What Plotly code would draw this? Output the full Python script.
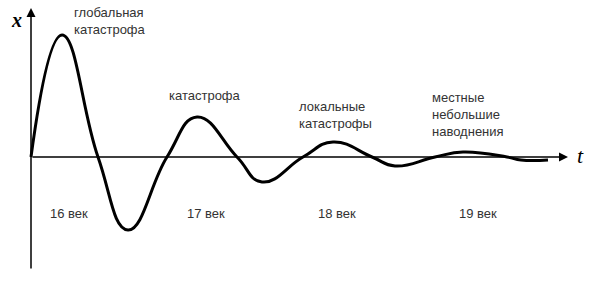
import plotly.graph_objects as go

# Curve (t in arbitrary time units, x deviation): extrema and zero crossings
t_vals = [0.00, 0.31, 0.67, 0.97, 1.36, 1.66, 2.06, 2.31, 2.72, 3.02, 3.41, 3.64, 4.04, 4.32, 4.76, 4.90, 5.17]
x_vals = [0.00, 1.22, 0.00, -0.73, 0.00, 0.40, 0.00, -0.25, 0.00, 0.15, 0.00, -0.09, 0.00, 0.05, 0.00, -0.03, -0.03]

# Annotations
labels = ["глобальная<br>катастрофа", "катастрофа", "локальные<br>катастрофы", "местные<br>небольшие<br>наводнения"]
label_t = [0.41, 1.36, 2.66, 3.99]
label_x = [1.36, 0.62, 0.42, 0.43]
eras = ["16 век", "17 век", "18 век", "19 век"]
era_t = [0.17, 1.54, 2.85, 4.26]
era_x = [-0.56, -0.56, -0.56, -0.56]

axis_t_end = 5.37
axis_x_top = 1.49
axis_x_bottom = -1.13

fig = go.Figure()
fig.add_trace(go.Scatter(x=t_vals, y=x_vals, mode="lines",
                         line=dict(color="black", width=3, shape="spline", smoothing=1.3),
                         hoverinfo="skip"))

# axes as arrows
fig.add_annotation(x=axis_t_end, y=0, ax=0, ay=0, xref="x", yref="y", axref="x", ayref="y",
                   showarrow=True, arrowhead=2, arrowsize=1.2, arrowwidth=1.5, arrowcolor="black", text="")
fig.add_annotation(x=0, y=axis_x_top, ax=0, ay=axis_x_bottom, xref="x", yref="y", axref="x", ayref="y",
                   showarrow=True, arrowhead=2, arrowsize=1.2, arrowwidth=1.5, arrowcolor="black", text="")

for txt, tx, xx in zip(labels, label_t, label_x):
    fig.add_annotation(x=tx, y=xx, text=txt, showarrow=False, xanchor="left", yanchor="middle",
                       align="left", font=dict(family="Liberation Sans", size=13, color="#333"))
for txt, tx, xx in zip(eras, era_t, era_x):
    fig.add_annotation(x=tx, y=xx, text=txt, showarrow=False, xanchor="left", yanchor="middle",
                       font=dict(family="Liberation Sans", size=13, color="#333"))

fig.add_annotation(x=-0.15, y=1.37, text="<i><b>x</b></i>", showarrow=False,
                   font=dict(family="Liberation Serif", size=20, color="black"))
fig.add_annotation(x=5.49, y=0.02, text="<i>t</i>", showarrow=False,
                   font=dict(family="Liberation Serif", size=22, color="black"))

fig.update_layout(width=600, height=290, margin=dict(l=0, r=0, t=0, b=0),
                  plot_bgcolor="white", paper_bgcolor="white", showlegend=False,
                  xaxis=dict(range=[-0.31, 5.69], visible=False, fixedrange=True),
                  yaxis=dict(range=[-1.33, 1.57], visible=False, fixedrange=True))
fig.write_html("out.html")
